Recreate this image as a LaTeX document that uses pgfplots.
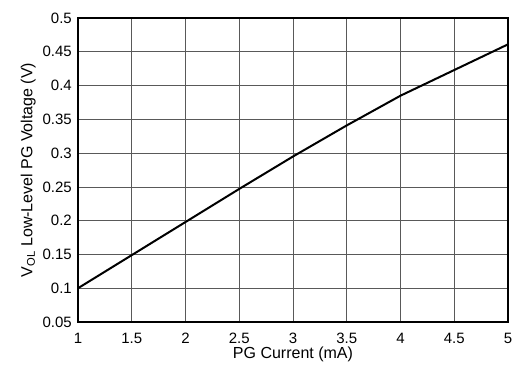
\documentclass[border=0pt]{standalone}
\usepackage{fontspec}
\setmainfont{Liberation Sans}
\usepackage{pgfplots}
\pgfplotsset{compat=1.18}
\begin{document}
\fontsize{15}{18}\selectfont
\begin{tikzpicture}
\begin{axis}[
  scale only axis,
  width=430pt, height=304pt,
  xmin=1, xmax=5, ymin=0.05, ymax=0.5,
  xtick={1,1.5,...,5}, ytick={0.05,0.1,...,0.5},
  xticklabels={1,1.5,2,2.5,3,3.5,4,4.5,5},
  yticklabels={0.05,0.1,0.15,0.2,0.25,0.3,0.35,0.4,0.45,0.5},
  grid=major,
  major grid style={gray!70!black, line width=0.7pt},
  major tick length=0pt,
  axis line style={black, line width=2pt},
  tick label style={font=\fontsize{15}{18}\selectfont},
  label style={font=\fontsize{16}{19}\selectfont},
  xticklabel style={yshift=-6pt},
  yticklabel style={xshift=-1pt},
  xlabel={PG Current (mA)},
  ylabel={V\textsubscript{OL} Low-Level PG Voltage (V)},
  xlabel style={at={(axis description cs:0.5,-0.108)}, anchor=center},
  ylabel style={at={(axis description cs:-0.116,0.5)}, anchor=center, rotate=0},
  /pgf/number format/assume math mode=true,
]
\addplot[black, line width=2pt] coordinates {
(1,0.100) (1.5,0.149) (2,0.198) (2.5,0.247) (3,0.295) (3.5,0.341) (4,0.385) (4.5,0.423) (5,0.461)
};
\end{axis}
\pgfresetboundingbox
\path (current axis.south west) ++(-78pt,-45pt) rectangle ([xshift=8pt,yshift=18pt]current axis.north east);
\end{tikzpicture}
\end{document}
